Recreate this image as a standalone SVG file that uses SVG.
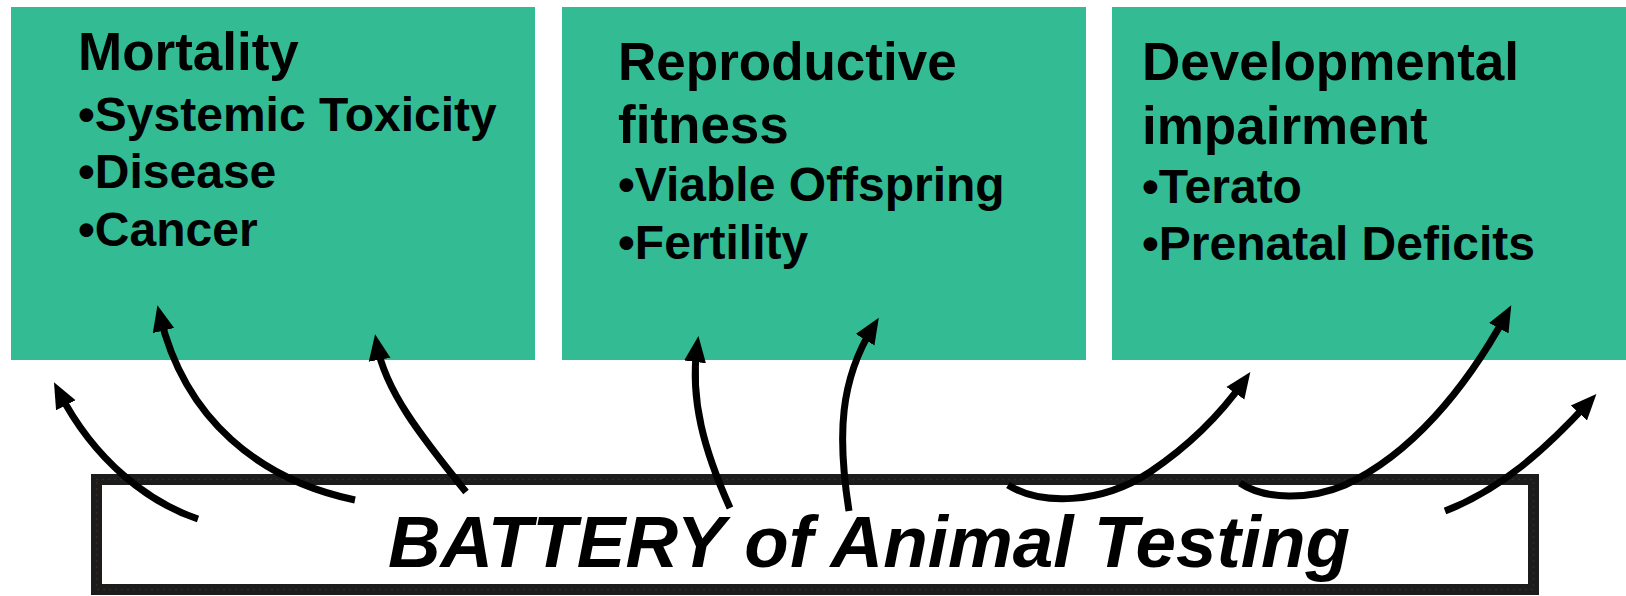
<svg xmlns="http://www.w3.org/2000/svg" width="1626" height="596" viewBox="0 0 1626 596">
<style>
.box{fill:#33BB94}
.hd{font-family:"Liberation Sans",Arial,sans-serif;font-weight:bold;font-size:53px;fill:#000}
.bl{font-family:"Liberation Sans",Arial,sans-serif;font-weight:bold;font-size:48px;fill:#000}
.conn{fill:none;stroke:#000;stroke-width:7;stroke-linecap:butt}
.big{font-family:"Liberation Sans",Arial,sans-serif;font-weight:bold;font-style:italic;font-size:73px;fill:#000}
</style>
<defs>
<marker id="ah" markerUnits="userSpaceOnUse" viewBox="0 -12 28 24" refX="15" refY="0" markerWidth="28" markerHeight="24" orient="auto">
<path d="M0,-11 L26,0 L0,11 z" fill="#000"/>
</marker>
</defs>
<rect width="1626" height="596" fill="#fff"/>
<g id="mortality">
<rect class="box" x="11" y="7" width="524" height="353"/>
<text class="hd" x="78" y="70">Mortality</text>
<text class="bl" x="78" y="131">•Systemic Toxicity</text>
<text class="bl" x="78" y="188">•Disease</text>
<text class="bl" x="78" y="246">•Cancer</text>
</g>
<g id="reproductive">
<rect class="box" x="562" y="7" width="524" height="353"/>
<text class="hd" x="618" y="80">Reproductive</text>
<text class="hd" x="618" y="143">fitness</text>
<text class="bl" x="618" y="201">•Viable Offspring</text>
<text class="bl" x="618" y="259">•Fertility</text>
</g>
<g id="developmental">
<rect class="box" x="1112" y="7" width="514" height="353"/>
<text class="hd" x="1142" y="80">Developmental</text>
<text class="hd" x="1142" y="144">impairment</text>
<text class="bl" x="1142" y="203">•Terato</text>
<text class="bl" x="1142" y="260">•Prenatal Deficits</text>
</g>
<g id="battery">
<rect x="96.5" y="479.5" width="1437" height="110" fill="#fff" stroke="#1c1c1c" stroke-width="11"/>
<rect x="96.5" y="479.5" width="1437" height="110" fill="none" stroke="#6a3d2a" stroke-width="1.5" stroke-dasharray="1 5" opacity="0.7"/>
<text class="big" x="388" y="567" textLength="962" lengthAdjust="spacingAndGlyphs">BATTERY of Animal Testing</text>
</g>
<g id="connectors">
<path class="conn" marker-end="url(#ah)" d="M198,519 C150,503 95,462 59,392"/>
<path class="conn" marker-end="url(#ah)" d="M355,500 C260,480 185,420 160,316"/>
<path class="conn" marker-end="url(#ah)" d="M466,492 C420,435 385,390 377,345"/>
<path class="conn" marker-end="url(#ah)" d="M730,508 C704,450 690,400 697,347"/>
<path class="conn" marker-end="url(#ah)" d="M849,511 C837,435 840,380 873,327"/>
<path class="conn" marker-end="url(#ah)" d="M1008,485 C1040,505 1100,505 1150,472 C1190,445 1220,415 1244,381"/>
<path class="conn" marker-end="url(#ah)" d="M1240,483 C1265,500 1310,500 1345,485 C1410,455 1465,390 1506,315"/>
<path class="conn" marker-end="url(#ah)" d="M1445,511 C1500,490 1545,450 1589,402"/>
</g>
</svg>
